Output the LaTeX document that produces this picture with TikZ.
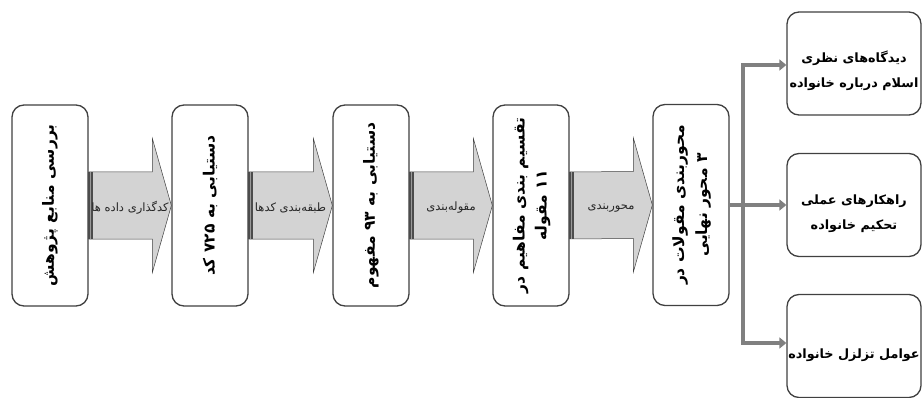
\documentclass[tikz,border=0pt]{standalone}
\usepackage{fontspec}
\usetikzlibrary{calc,arrows.meta}
\TeXXeTstate=1
\newfontfamily\fa[Script=Arabic]{DejaVu Sans}
\newcommand\RL[1]{\beginR #1\endR}
\newcommand\lowered[1]{\raisebox{-7pt}[\height][\depth]{\begin{tabular}{@{}c@{}}#1\end{tabular}}}
\definecolor{boxline}{RGB}{64,64,64}
\definecolor{arrowfill}{RGB}{211,211,211}
\definecolor{conn}{RGB}{128,128,128}
\begin{document}
\begin{tikzpicture}[x=1pt,y=-1pt,
  stepbox/.style={draw=boxline,line width=1.3pt,rounded corners=12pt,fill=white,
    minimum width=76pt,minimum height=201pt,inner sep=0pt,font=\fa\bfseries\fontsize{15.5}{23}\selectfont},
  endbox/.style={draw=boxline,line width=1.3pt,rounded corners=12pt,fill=white,
    minimum width=134pt,minimum height=103pt,inner sep=0pt,
    font=\fa\bfseries\fontsize{12.8}{25}\selectfont},
  blockarr/.style={draw=boxline,line width=0.5pt,fill=arrowfill},
  arrlab/.style={inner sep=0pt,font=\fa\fontsize{11.5}{13}\selectfont,text=black!85},
  connector/.style={draw=conn,line width=3.5pt},
  branch/.style={draw=conn,line width=3.5pt,-{Triangle[length=7pt,width=11pt]}}]
\useasboundingbox (0,0) rectangle (923,398);

\newcommand\blockarrow[3]{%
  \draw[blockarr] ($(#1.east)+(0,-33.5)$) -- ($(#2.west)+(-19,-33.5)$)
     -- ($(#2.west)+(-19,-67)$) -- (#2.west) -- ($(#2.west)+(-19,67)$)
     -- ($(#2.west)+(-19,33.5)$) -- ($(#1.east)+(0,33.5)$) -- cycle;
  \fill[black!70] ($(#1.east)+(-1,-33.5)$) rectangle ($(#1.east)+(4.5,33.5)$);
  \draw[black!40,line width=0.6pt] ($(#1.east)+(2,-33.5)$) -- ($(#1.east)+(2,33.5)$);
  \node[arrlab] (lab#1) at ($(#1.east)!0.5!(#2.west)+(0,2.5)$) {#3};}

\node[stepbox] (b1) at (50,205.5) {\rotatebox{90}{\RL{بررسی منابع پژوهش}}};
\node[stepbox] (b2) at (210,205.5) {\rotatebox{90}{\RL{دستیابی به ۷۲۵ کد}}};
\node[stepbox] (b3) at (371,205.5) {\rotatebox{90}{\RL{دستیابی به ۹۳ مفهوم}}};
\node[stepbox] (b4) at (531,205.5) {\rotatebox{90}{\begin{tabular}{@{}c@{}}\RL{تقسیم بندی مفاهیم در}\\[-1pt]\RL{۱۱ مقوله}\end{tabular}}};
\node[stepbox] (b5) at (691,205) {\rotatebox{90}{\begin{tabular}{@{}c@{}}\RL{محوربندی مقولات در}\\[0pt]\RL{۳ محور نهایی}\end{tabular}}};

\blockarrow{b1}{b2}{\RL{کدگذاری داده ها}}
\blockarrow{b2}{b3}{\RL{طبقه‌بندی کدها}}
\blockarrow{b3}{b4}{\RL{مقوله‌بندی}}
\blockarrow{b4}{b5}{\RL{محوربندی}}

\node[endbox] (r1) at (854,63.5) {\lowered{\RL{دیدگاه‌های نظری}\\\RL{اسلام درباره خانواده}}};
\node[endbox] (r2) at (854,205) {\lowered{\RL{راهکارهای عملی}\\\RL{تحکیم خانواده}}};
\node[endbox] (r3) at (854,346) {\lowered{\RL{عوامل تزلزل خانواده}}};

\coordinate (j) at (743,205);
\draw[connector] (b5.east) -- (j);
\draw[branch] (j) -- (r2.west);
\draw[branch] (j) |- ($(r1.west)+(0,1.5)$);
\draw[branch] (j) |- ($(r3.west)+(0,-3)$);
\end{tikzpicture}
\end{document}
